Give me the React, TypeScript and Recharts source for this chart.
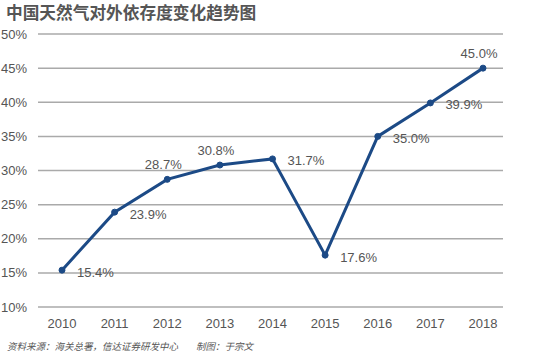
import React from "react";
import { LineChart, Line, XAxis, YAxis, CartesianGrid, LabelList } from "recharts";

const years = ["2010", "2011", "2012", "2013", "2014", "2015", "2016", "2017", "2018"];
const dependence = [15.4, 23.9, 28.7, 30.8, 31.7, 17.6, 35.0, 39.9, 45.0];
const yTicks = [10, 15, 20, 25, 30, 35, 40, 45, 50];
const labelsAbove = ["2012", "2013", "2018"];

const data = years.map((y, i) => ({ year: y, value: dependence[i] }));

const FONT = "'Liberation Sans', Arial, sans-serif";
const CJK = "'Noto Sans CJK SC', sans-serif";

function PointLabel(props: any) {
  const { x, y, value, index } = props;
  const above = labelsAbove.includes(years[index]);
  const tx = above ? x - 4 : x + 15;
  const ty = above ? y - 15 : y + 2;
  return (
    <text
      x={tx}
      y={ty}
      dy="0.35em"
      textAnchor={above ? "middle" : "start"}
      fontSize={13}
      fontFamily={FONT}
      fill="#555"
    >
      {value.toFixed(1)}%
    </text>
  );
}

export default function App() {
  return (
    <div style={{ position: "absolute", left: 0, top: 0, width: 550, height: 360, background: "#fff" }}>
      <div
        style={{
          position: "absolute",
          left: 6,
          top: 2,
          fontFamily: CJK,
          fontWeight: 700,
          fontSize: 16.7,
          color: "#555",
          lineHeight: "20px",
        }}
      >
        中国天然气对外依存度变化趋势图
      </div>
      <LineChart width={550} height={360} data={data} margin={{ top: 34, right: 47, left: 0, bottom: 23 }}>
        <CartesianGrid vertical={false} stroke="#aaa" strokeWidth={1.5} />
        <XAxis
          dataKey="year"
          axisLine={false}
          tickLine={false}
          tickMargin={6}
          height={30}
          padding={{ left: 24, right: 20 }}
          tick={{ fontSize: 13, fill: "#555", fontFamily: FONT }}
          interval={0}
        />
        <YAxis
          domain={[10, 50]}
          ticks={yTicks}
          axisLine={false}
          tickLine={false}
          tickMargin={5}
          width={38}
          tickFormatter={(v: number) => `${v}%`}
          tick={{ fontSize: 13, fill: "#555", fontFamily: FONT }}
        />
        <Line
          type="linear"
          dataKey="value"
          stroke="#1c4a86"
          strokeWidth={3}
          dot={{ r: 3, fill: "#1c4a86", stroke: "#1c4a86", strokeWidth: 1 }}
          isAnimationActive={false}
        >
          <LabelList dataKey="value" content={<PointLabel />} />
        </Line>
      </LineChart>
      <div
        style={{
          position: "absolute",
          left: 7,
          top: 338,
          fontFamily: CJK,
          fontStyle: "italic",
          fontSize: 9.5,
          color: "#555",
          whiteSpace: "pre",
          lineHeight: "16px",
        }}
      >
        资料来源：海关总署，信达证券研发中心
        <span style={{ marginLeft: 18 }}>制图：于宗文</span>
      </div>
    </div>
  );
}
